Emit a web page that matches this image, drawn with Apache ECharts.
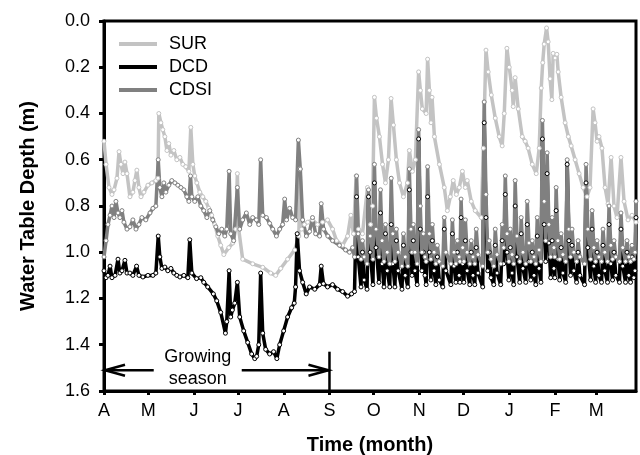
<!DOCTYPE html>
<html>
<head>
<meta charset="utf-8">
<script src="https://cdn.jsdelivr.net/npm/echarts@6/dist/echarts.min.js"></script>
<style>
html,body{margin:0;padding:0;background:#fff;}
#c{width:640px;height:455px;}
</style>
</head>
<body>
<div id="c"></div>
<script>
// Month ticks (days since April 1)
const monthStarts = [0, 30, 61, 91, 122, 153, 183, 214, 244, 275, 306, 334];
const monthLabels = ['A', 'M', 'J', 'J', 'A', 'S', 'O', 'N', 'D', 'J', 'F', 'M'];
const seriesNames = ['SUR', 'DCD', 'CDSI'];

// [day since April 1, water table depth (m)]
const surData = [[0,0.52],[1.4,0.62],[3.4,0.72],[5.4,0.75],[6.8,0.73],[8.8,0.68],[10.2,0.565],[11.5,0.62],[12.9,0.66],[14.2,0.61],[15.6,0.66],[17.6,0.76],[19.6,0.74],[21,0.69],[22.3,0.645],[23.7,0.72],[25.1,0.76],[27.1,0.74],[29.8,0.71],[32.5,0.70],[35.2,0.69],[36.6,0.68],[37.2,0.40],[38.6,0.44],[39.9,0.47],[41.3,0.50],[42.7,0.56],[44,0.53],[45.4,0.58],[47.4,0.56],[49.4,0.60],[51.5,0.59],[53.5,0.62],[55.5,0.63],[57.6,0.65],[58.9,0.46],[60.3,0.62],[61.6,0.67],[63,0.70],[65,0.74],[67,0.76],[69.1,0.78],[71.1,0.81],[73.1,0.84],[75.2,0.88],[77.2,0.93],[79.2,0.97],[81.3,1.01],[84.7,0.98],[87.4,0.96],[89.4,0.90],[90.5,0.66],[91.4,0.90],[94.1,1.03],[100.9,1.05],[107.7,1.065],[113.1,1.09],[116.5,1.10],[119.9,1.07],[124.6,1.03],[129.4,0.99],[132.2,0.93],[133.1,0.64],[134.1,0.90],[136,0.88],[138.2,0.87],[141.5,0.86],[144.9,0.88],[148.3,0.87],[151.7,0.86],[155.1,0.90],[157.8,0.95],[161.9,0.97],[165.3,0.93],[167.5,0.84],[169.3,0.92],[171.1,0.67],[172.7,0.90],[175.4,0.92],[178.8,0.72],[180.9,0.88],[182.2,0.80],[183.5,0.33],[184.9,0.42],[186.9,0.50],[189,0.62],[191,0.70],[193,0.60],[194.8,0.335],[196.4,0.45],[198.4,0.60],[200.5,0.70],[203.2,0.76],[205.9,0.70],[207.2,0.56],[209.3,0.65],[211.3,0.60],[213.5,0.22],[214.7,0.30],[216,0.38],[218.6,0.40],[219.6,0.165],[220.8,0.30],[221.9,0.44],[222.6,0.33],[224.2,0.50],[227.6,0.62],[230.9,0.72],[233,0.82],[235,0.76],[237,0.69],[239.1,0.75],[241.1,0.72],[243.2,0.65],[245.2,0.72],[246.5,0.69],[249.2,0.78],[251.9,0.82],[256,0.85],[257.4,0.55],[259.2,0.126],[260.7,0.22],[262.8,0.32],[265.5,0.42],[268.2,0.50],[270.2,0.54],[271.6,0.40],[273.4,0.118],[275,0.20],[277,0.30],[277.7,0.37],[279,0.245],[281.1,0.38],[283.8,0.50],[285.8,0.52],[287.8,0.55],[290.6,0.62],[293.3,0.66],[295.3,0.55],[296.7,0.29],[297.7,0.18],[298.7,0.10],[300.3,0.03],[301.4,0.09],[302.7,0.25],[303.9,0.34],[304.8,0.14],[306.1,0.16],[307.3,0.144],[308.2,0.22],[310.2,0.33],[312.9,0.44],[315.1,0.50],[317,0.54],[319.7,0.60],[322.4,0.66],[325.1,0.72],[327.8,0.76],[329.8,0.72],[331.9,0.38],[333.2,0.44],[334.6,0.52],[335.9,0.50],[337.9,0.55],[340,0.72],[342,0.79],[344.1,0.59],[346.1,0.80],[348.1,0.85],[350.8,0.59],[352.9,0.78],[355.6,0.86],[358.3,0.84],[361,0.87]];

const cdsiData = [[0,1.02],[1.4,0.95],[2.7,0.88],[4.1,0.84],[5.4,0.80],[6.8,0.85],[8.1,0.78],[9.5,0.83],[10.8,0.85],[12.2,0.82],[13.5,0.87],[15.6,0.90],[17.6,0.89],[19.6,0.86],[21.7,0.90],[23.7,0.88],[25.7,0.85],[28.4,0.86],[31.2,0.83],[33.2,0.81],[35.2,0.80],[36.8,0.60],[37.9,0.72],[39.3,0.76],[40.6,0.70],[42,0.74],[44,0.71],[46,0.69],[48.1,0.70],[50.1,0.71],[52.2,0.72],[54.2,0.73],[56.2,0.76],[57.6,0.78],[58.7,0.67],[59.6,0.76],[61.6,0.78],[63.7,0.76],[65.7,0.80],[67.7,0.82],[69.8,0.85],[71.8,0.82],[73.8,0.86],[75.9,0.89],[77.9,0.92],[79.9,0.90],[82,0.93],[83.3,0.90],[84.9,0.65],[86,0.92],[88,0.95],[90.5,0.72],[92.1,0.90],[94.1,0.86],[96.6,0.83],[98.9,0.88],[100.9,0.85],[103.4,0.86],[105,0.88],[106.3,0.60],[107.7,0.84],[110.2,0.85],[112.4,0.875],[114.5,0.90],[117,0.93],[119.2,0.90],[121.2,0.88],[122.6,0.77],[123.9,0.86],[126,0.81],[128,0.85],[130,0.86],[131.9,0.515],[133.2,0.64],[134.8,0.86],[137.3,0.93],[139.5,0.91],[141.5,0.85],[143.6,0.92],[146.3,0.93],[147.4,0.79],[149,0.90],[151.9,0.93],[155.1,0.95],[159.8,0.97],[163.9,0.99],[166.6,1.00],[168.7,0.98],
[170,1.02],[171.4,0.67],[172.5,0.92],[174.4,1.03],[175.4,0.95],[176.5,1.02],[178.5,1.05],[179.5,0.73],[180.6,0.93],[182.5,1.03],[183.5,0.62],[184.6,0.90],[186.6,1.02],[187.6,0.73],[188.7,0.95],[190,1.04],[191,0.88],[192.2,1.0],[193.9,1.05],[194.9,0.68],[196,0.92],[197.4,1.04],[198.4,0.90],[199.6,1.0],[202.2,1.06],[203.2,0.92],[204.4,1.02],[206.2,1.06],[207.2,0.64],[208.3,0.90],[209,1.0],[209.9,0.88],[211,1.0],[212.5,1.05],[213.5,0.47],[214.6,0.80],[215.7,1.0],[216.7,0.92],[217.8,1.02],[218.6,1.04],[219.6,0.63],[220.8,0.92],[221.8,1.03],[222.8,0.88],[224,1.0],[225.2,1.05],[226.2,0.97],[227.5,1.04],[229.9,1.06],[230.9,0.85],[232,1.0],[235.4,1.05],[236.4,0.86],[237.5,1.0],[238.8,1.05],[239.8,0.95],[241,1.02],[241.5,1.04],[242.3,0.77],[243.4,0.98],[244.2,1.04],[245.2,0.86],[246.4,1.0],[248.2,1.05],[249.2,0.95],[250.4,1.02],[251.6,1.05],[252.6,0.90],[253.8,1.01],[257,1.06],[258,0.35],[259.2,0.75],[260.4,1.0],[261.4,0.95],[262.6,1.03],[264.5,1.06],[265.5,0.90],[266.7,1.01],[269.2,1.05],[270.2,0.88],[271.2,0.98],[272.3,0.67],[273.5,0.92],[274.7,1.04],[275.7,0.90],[276.9,1.01],[278,1.05],[279,0.69],[280.2,0.93],[282.1,1.04],[283.1,0.85],[284.3,1.0],[286.2,1.05],[287.2,0.78],[288.4,0.96],[289.6,1.04],[290.6,0.95],[291.8,1.02],[293,1.05],[294,0.85],[295.2,0.99],[296.5,1.04],[297.5,0.43],[298.7,0.78],[299.7,0.95],[300.7,0.57],[301.9,0.88],[303.1,1.02],[304.1,0.85],[305.3,0.98],[305.9,1.02],[306.8,0.72],[308,0.95],[309.2,1.03],[310.2,0.92],[311.4,1.01],[313.3,1.04],[314.3,0.60],[315.5,0.90],[316.6,1.02],[317.6,0.90],[318.8,1.0],[320.7,1.04],[321.7,0.95],[322.9,1.02],[326.1,1.05],[327.1,0.62],[328.3,0.90],[330.2,1.03],[331.2,0.82],[332.4,0.98],[333.6,1.04],[334.6,0.95],[335.8,1.02],[337.6,1.04],[338.6,0.90],[339.8,1.0],[341.7,1.04],[342.7,0.80],[343.9,0.97],[345.1,1.03],[346.1,0.95],[347.3,1.02],[349.8,1.04],[350.8,0.83],[352,0.98],[353.9,1.04],[354.9,0.95],[356.1,1.02],[357.3,1.04],[358.3,0.97],[359.5,1.03],[360.3,1.0],[361,0.78]];

const dcdData = [[0,1.08],[1.4,1.11],[2.7,1.10],[4.1,1.06],[5.4,1.11],[7.5,1.10],[9.5,1.03],[10.8,1.09],[12.2,1.08],[14.2,1.035],[15.6,1.09],[17.6,1.09],[19.6,1.10],[22.1,1.06],[23.7,1.10],[26.4,1.107],[29.8,1.10],[33.2,1.10],[35.2,1.09],[36.8,0.93],[37.9,1.02],[39.3,1.07],[41.3,1.064],[43.3,1.08],[45.4,1.07],[47.4,1.09],[49.4,1.10],[51.5,1.107],[54.2,1.10],[56.9,1.11],[58.2,0.946],[59.6,1.09],[62.8,1.114],[65.7,1.11],[67.7,1.13],[70.4,1.15],[74.2,1.18],[76.5,1.21],[79.2,1.26],[82.4,1.35],[83.3,1.30],[84.9,1.08],[86,1.28],[87.1,1.25],[88.7,1.22],[90.5,1.13],[92.1,1.28],[94.8,1.34],[97.5,1.39],[100.2,1.44],[102.3,1.46],[103.6,1.45],[105,1.40],[106.3,1.09],[107.7,1.35],[109.7,1.42],[112.4,1.44],[115.1,1.43],[117.3,1.46],[119.2,1.40],[121.9,1.34],[124.6,1.28],[127.3,1.24],[129.1,1.22],[130,1.15],[131.1,0.92],[132.7,1.08],[134.8,1.13],[137.2,1.18],[139.5,1.15],[143,1.16],[146.3,1.14],[147.4,1.06],[148.9,1.136],[151.7,1.15],[155.1,1.14],[158.5,1.16],[161.9,1.17],[165.3,1.19],[168,1.18],
[170,1.17],[171.4,0.76],[172.5,1.02],[174.4,1.15],[175.4,1.0],[176.5,1.12],[178.5,1.16],[179.5,0.76],[180.6,1.0],[182.5,1.14],[183.5,0.70],[184.6,0.98],[186.6,1.13],[187.6,0.83],[188.7,1.05],[190,1.15],[191,0.92],[192.2,1.08],[193.9,1.15],[194.9,0.88],[196,1.05],[197.4,1.15],[198.4,0.95],[199.6,1.08],[202.2,1.16],[203.2,0.97],[204.4,1.10],[206.2,1.15],[207.2,0.73],[208.3,1.0],[209,1.10],[209.9,0.95],[211,1.08],[212.5,1.14],[213.5,0.51],[214.6,0.90],[215.7,1.08],[216.7,1.0],[217.8,1.10],[218.6,1.14],[219.6,0.76],[220.8,1.0],[221.8,1.12],[222.8,0.95],[224,1.08],[225.2,1.14],[226.2,1.02],[227.5,1.12],[229.9,1.15],[230.9,0.90],[232,1.08],[235.4,1.14],[236.4,0.92],[237.5,1.06],[238.8,1.13],[239.8,1.0],[241,1.10],[241.5,1.13],[242.3,0.85],[243.4,1.05],[244.2,1.13],[245.2,0.95],[246.4,1.08],[248.2,1.14],[249.2,1.0],[250.4,1.10],[251.6,1.14],[252.6,0.98],[253.8,1.09],[257,1.15],[258,0.44],[259.2,0.85],[260.4,1.08],[261.4,1.0],[262.6,1.11],[264.5,1.14],[265.5,0.97],[266.7,1.09],[269.2,1.14],[270.2,0.95],[271.2,1.05],[272.3,0.75],[273.5,1.0],[274.7,1.12],[275.7,0.98],[276.9,1.09],[278,1.14],[279,0.80],[280.2,1.02],[282.1,1.13],[283.1,0.92],[284.3,1.07],[286.2,1.13],[287.2,0.88],[288.4,1.04],[289.6,1.12],[290.6,1.0],[291.8,1.1],[293,1.14],[294,0.93],[295.2,1.07],[296.5,1.13],[297.5,0.51],[298.7,0.88],[299.7,1.04],[300.7,0.66],[301.9,0.96],[303.1,1.11],[304.1,0.95],[305.3,1.07],[305.9,1.11],[306.8,0.82],[308,1.03],[309.2,1.12],[310.2,0.98],[311.4,1.09],[313.3,1.13],[314.3,0.62],[315.5,0.95],[316.6,1.1],[317.6,0.97],[318.8,1.08],[320.7,1.13],[321.7,1.0],[322.9,1.1],[326.1,1.14],[327.1,0.70],[328.3,0.98],[330.2,1.12],[331.2,0.90],[332.4,1.06],[333.6,1.13],[334.6,1.0],[335.8,1.1],[337.6,1.13],[338.6,0.97],[339.8,1.08],[341.7,1.13],[342.7,0.88],[343.9,1.05],[345.1,1.12],[346.1,1.0],[347.3,1.1],[349.8,1.13],[350.8,0.90],[352,1.06],[353.9,1.13],[354.9,1.0],[356.1,1.1],[357.3,1.13],[358.3,1.02],[359.5,1.11],[360.3,1.08],[361,0.85]];

// Growing-season annotation (days / depth)
const seasonStartDay = 0;
const seasonEndDay = 153;
const arrowDepth = 1.51;
const seasonLabel = 'Growing\nseason';

const colors = { SUR: '#c3c3c3', DCD: '#000000', CDSI: '#808080' };
const FONT = "'Liberation Sans', Arial, Helvetica, sans-serif";

const chart = echarts.init(document.getElementById('c'), null, { renderer: 'canvas' });

function mkSeries(name, data) {
  return {
    name: name,
    type: 'line',
    data: data,
    symbol: 'circle',
    symbolSize: 4,
    showSymbol: true,
    showAllSymbol: true,
    lineStyle: { color: colors[name], width: 3.5, join: 'round' },
    itemStyle: { color: '#ffffff', borderColor: colors[name], borderWidth: 1 },
    emphasis: { disabled: true },
    animation: false
  };
}

chart.setOption({
  animation: false,
  grid: { left: 104, right: 4, top: 21, bottom: 64, outerBoundsMode: 'none', containLabel: false, show: true, borderColor: '#000', borderWidth: 3, backgroundColor: 'transparent' },
  legend: {
    orient: 'vertical', left: 119, top: 35, padding: 0, itemGap: 5,
    itemWidth: 38, itemHeight: 4, icon: 'rect',
    textStyle: { fontFamily: FONT, fontSize: 18, color: '#000', padding: [0, 0, 0, 7] },
    data: seriesNames.map(n => ({ name: n, itemStyle: { color: colors[n], borderWidth: 0 } }))
  },
  xAxis: {
    type: 'value', min: 0, max: 361,
    name: 'Time (month)', nameLocation: 'middle', nameGap: 44,
    nameTextStyle: { fontFamily: FONT, fontSize: 20, fontWeight: 'bold', color: '#000' },
    axisLine: { show: true, onZero: false, lineStyle: { color: '#000', width: 3 } },
    axisTick: { show: true, length: 4, inside: false, customValues: monthStarts, lineStyle: { color: '#000', width: 3 } },
    axisLabel: {
      customValues: monthStarts, margin: 11, fontFamily: FONT, fontSize: 18, color: '#000',
      formatter: v => { const i = monthStarts.indexOf(Math.round(v)); return i >= 0 ? monthLabels[i] : ''; }
    },
    splitLine: { show: false }
  },
  yAxis: {
    type: 'value', inverse: true, min: 0, max: 1.6, interval: 0.2,
    name: 'Water Table Depth (m)', nameLocation: 'middle', nameGap: 66,
    nameTextStyle: { fontFamily: FONT, fontSize: 20, fontWeight: 'bold', color: '#000' },
    axisLine: { show: true, lineStyle: { color: '#000', width: 3 } },
    axisTick: { show: true, length: 5, lineStyle: { color: '#000', width: 3 } },
    axisLabel: { margin: 14, fontFamily: FONT, fontSize: 18, color: '#000', formatter: v => v.toFixed(1) },
    splitLine: { show: false }
  },
  series: [
    mkSeries('SUR', surData),
    mkSeries('DCD', dcdData),
    mkSeries('CDSI', cdsiData)
  ]
});

// Annotation placed through the axes
const px = d => chart.convertToPixel({ xAxisIndex: 0 }, d);
const py = v => chart.convertToPixel({ yAxisIndex: 0 }, v);
const x0 = px(seasonStartDay), x1 = px(seasonEndDay), ya = py(arrowDepth);
const yTop = py(1.43), yBot = py(1.6);
const xc = (x0 + x1) / 2 - 19;
const halfGap = 44;
const stroke = { stroke: '#000', lineWidth: 2.5, fill: null };
chart.setOption({
  graphic: [
    { type: 'line', silent: true, z: 100, shape: { x1: x0, y1: ya, x2: xc - halfGap, y2: ya }, style: stroke },
    { type: 'line', silent: true, z: 100, shape: { x1: xc + halfGap, y1: ya, x2: x1, y2: ya }, style: stroke },
    { type: 'polyline', silent: true, z: 100, shape: { points: [[x0 + 21, ya - 5.5], [x0 + 1, ya], [x0 + 21, ya + 5.5]] }, style: stroke },
    { type: 'polyline', silent: true, z: 100, shape: { points: [[x1 - 21, ya - 5.5], [x1 - 1, ya], [x1 - 21, ya + 5.5]] }, style: stroke },
    { type: 'line', silent: true, z: 100, shape: { x1: x1, y1: yTop, x2: x1, y2: yBot }, style: stroke },
    { type: 'text', silent: true, z: 100, x: xc, y: ya - 2,
      style: { text: seasonLabel, font: '18px ' + FONT, fill: '#000', align: 'center', verticalAlign: 'middle', lineHeight: 22 } }
  ]
});
</script>
</body>
</html>
